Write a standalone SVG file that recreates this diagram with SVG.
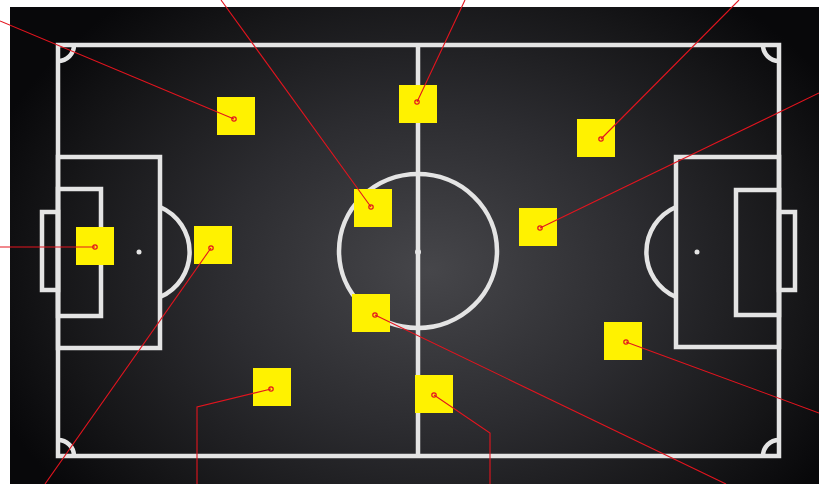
<svg xmlns="http://www.w3.org/2000/svg" width="819" height="484" viewBox="0 0 819 484">
<defs>
<radialGradient id="board" cx="430" cy="270" r="470" gradientUnits="userSpaceOnUse" gradientTransform="translate(430 270) scale(1 0.75) translate(-430 -270)">
<stop offset="0" stop-color="#46464a"/>
<stop offset="0.45" stop-color="#2c2c30"/>
<stop offset="0.8" stop-color="#161618"/>
<stop offset="1" stop-color="#08080a"/>
</radialGradient>
</defs>
<style>
.chalk{fill:none;stroke:#e4e4e4;stroke-width:4.5}
.spot{fill:#e4e4e4}
.sq{fill:#fff200}
.dot{fill:none;stroke:#e3141e;stroke-width:1.2}
.conn{fill:none;stroke:#e3141e;stroke-width:1.1}
</style>
<rect x="0" y="0" width="819" height="484" fill="#ffffff"/>
<rect x="10" y="7" width="809" height="477" fill="url(#board)"/>
<g id="pitch">
<rect class="chalk" x="58" y="45" width="721" height="411"/>
<line class="chalk" x1="418" y1="45" x2="418" y2="456"/>
<ellipse class="chalk" cx="418" cy="251" rx="79" ry="77"/>
<circle class="spot" cx="418" cy="252" r="3"/>
<rect class="chalk" x="58" y="157" width="102" height="191"/>
<rect class="chalk" x="58" y="189" width="43" height="127"/>
<rect class="chalk" x="42" y="212" width="16" height="78"/>
<circle class="spot" cx="139" cy="252" r="2.5"/>
<path class="chalk" d="M160 207 A49 49 0 0 1 160 297"/>
<rect class="chalk" x="676" y="157" width="103" height="190"/>
<rect class="chalk" x="736" y="190" width="43" height="125"/>
<rect class="chalk" x="779" y="212" width="16" height="78"/>
<circle class="spot" cx="697" cy="252" r="2.5"/>
<path class="chalk" d="M676 207 A49 49 0 0 0 676 297"/>
<path class="chalk" d="M58 61 A16 16 0 0 0 74 45"/>
<path class="chalk" d="M763 45 A16 16 0 0 0 779 61"/>
<path class="chalk" d="M58 440 A16 16 0 0 1 74 456"/>
<path class="chalk" d="M763 456 A16 16 0 0 1 779 440"/>
</g>
<g id="n1"><rect class="sq" x="217" y="97" width="38" height="38"/></g>
<g id="n2"><rect class="sq" x="399" y="85" width="38" height="38"/></g>
<g id="n3"><rect class="sq" x="577" y="119" width="38" height="38"/></g>
<g id="n4"><rect class="sq" x="354" y="189" width="38" height="38"/></g>
<g id="n5"><rect class="sq" x="519" y="208" width="38" height="38"/></g>
<g id="n6"><rect class="sq" x="76" y="227" width="38" height="38"/></g>
<g id="n7"><rect class="sq" x="194" y="226" width="38" height="38"/></g>
<g id="n8"><rect class="sq" x="352" y="294" width="38" height="38"/></g>
<g id="n9"><rect class="sq" x="604" y="322" width="38" height="38"/></g>
<g id="n10"><rect class="sq" x="253" y="368" width="38" height="38"/></g>
<g id="n11"><rect class="sq" x="415" y="375" width="38" height="38"/></g>
<g id="connectors">
<polyline class="conn" points="234,119 0,21"/>
<polyline class="conn" points="417,102 465,0"/>
<polyline class="conn" points="601,139 739,0"/>
<polyline class="conn" points="371,207 221,0"/>
<polyline class="conn" points="540,228 819,93"/>
<polyline class="conn" points="95,247 0,247"/>
<polyline class="conn" points="211,248 45,484"/>
<polyline class="conn" points="375,315 726,484"/>
<polyline class="conn" points="626,342 819,413"/>
<polyline class="conn" points="271,389 197,407 197,484"/>
<polyline class="conn" points="434,395 490,433 490,484"/>
<circle class="dot" cx="234" cy="119" r="2.2"/>
<circle class="dot" cx="417" cy="102" r="2.2"/>
<circle class="dot" cx="601" cy="139" r="2.2"/>
<circle class="dot" cx="371" cy="207" r="2.2"/>
<circle class="dot" cx="540" cy="228" r="2.2"/>
<circle class="dot" cx="95" cy="247" r="2.2"/>
<circle class="dot" cx="211" cy="248" r="2.2"/>
<circle class="dot" cx="375" cy="315" r="2.2"/>
<circle class="dot" cx="626" cy="342" r="2.2"/>
<circle class="dot" cx="271" cy="389" r="2.2"/>
<circle class="dot" cx="434" cy="395" r="2.2"/>
</g>
</svg>
